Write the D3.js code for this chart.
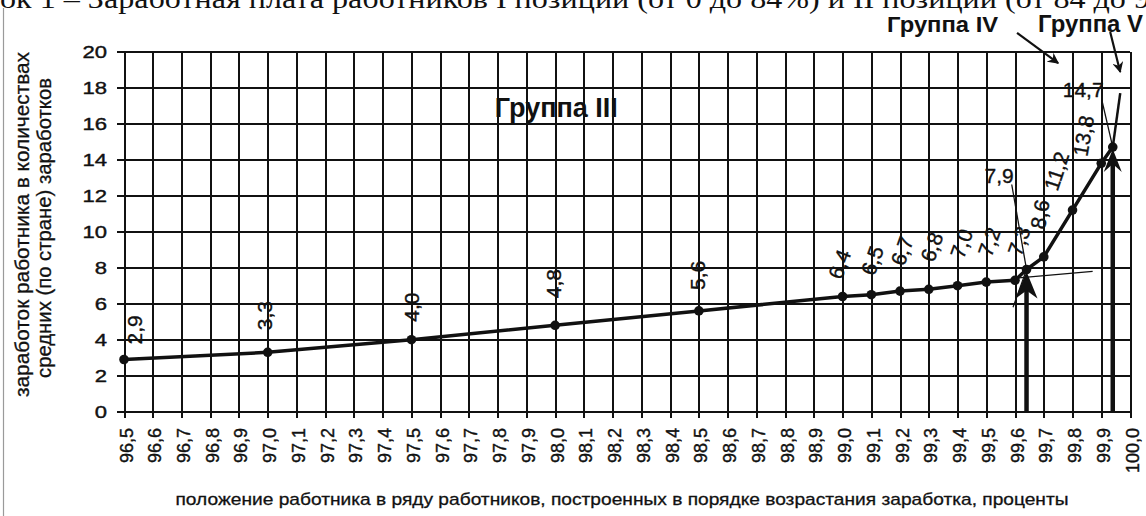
<!DOCTYPE html>
<html><head><meta charset="utf-8">
<script src="https://cdn.jsdelivr.net/npm/d3@7"></script>
<style>body{margin:0;background:#fff}svg{display:block}</style>
</head><body><svg id="c" width="1146" height="516"></svg>
<script>
// ---------- data ----------
const xTickValues = [96.5,96.6,96.7,96.8,96.9,97.0,97.1,97.2,97.3,97.4,97.5,97.6,97.7,97.8,97.9,98.0,98.1,98.2,98.3,98.4,98.5,98.6,98.7,98.8,98.9,99.0,99.1,99.2,99.3,99.4,99.5,99.6,99.7,99.8,99.9,100.0];
const xTickLabels = ["96,5","96,6","96,7","96,8","96,9","97,0","97,1","97,2","97,3","97,4","97,5","97,6","97,7","97,8","97,9","98,0","98,1","98,2","98,3","98,4","98,5","98,6","98,7","98,8","98,9","99,0","99,1","99,2","99,3","99,4","99,5","99,6","99,7","99,8","99,9","100,0"];
const yTickValues = [0,2,4,6,8,10,12,14,16,18,20];
const positions = [96.5,97.0,97.5,98.0,98.5,99.0,99.1,99.2,99.3,99.4,99.5,99.6,99.64,99.7,99.8,99.9,99.94];
const values    = [2.9,3.3,4.0,4.8,5.6,6.4,6.5,6.7,6.8,7.0,7.2,7.3,7.9,8.6,11.2,13.8,14.7];
const valueLabels = ["2,9","3,3","4,0","4,8","5,6","6,4","6,5","6,7","6,8","7,0","7,2","7,3","7,9","8,6","11,2","13,8","14,7"];
const trendX = [99.59, 99.87];
const trendY = [7.4, 7.8];
const groupNames = ["Группа III","Группа IV","Группа V"];
const groupLabelX = [97.79, 99.155, 99.68];
const groupLabelY = [16.37, 21.1, 21.1];
const groupArrowX = [[99.607, 99.75],[99.931, 99.966]];
const groupArrowY = [[21.04, 19.37],[21.09, 18.87]];
const markerPositions = [99.64, 99.94];
const markerValues = [7.9, 14.7];
const extensionX = [99.94, 99.966];
const extensionY = [14.7, 17.7];
const crossX = [99.593, 99.64];
const crossY = [5.8, 7.9];
const titleText = "ок 1 – Заработная плата работников I позиции (от 0 до 84%) и II позиции (от 84 до 9";
const yTitleLines = ["заработок работника в количествах","средних (по стране) заработков"];
const xTitle = "положение работника в ряду работников, построенных в порядке возрастания заработка, проценты";

// ---------- layout (styles only) ----------
const labelLayout = [
  {a:-90,dx:18,dy:-15},{a:-90,dx:4,dy:-22},{a:-90,dx:8,dy:-18},{a:-90,dx:6,dy:-27},{a:-90,dx:6,dy:-21},
  {a:-70,dx:-1,dy:-16},{a:-70,dx:3,dy:-18},{a:-70,dx:4,dy:-24},{a:-70,dx:5,dy:-26},{a:-70,dx:6,dy:-26},{a:-70,dx:5,dy:-24},{a:-70,dx:6,dy:-23},
  {a:0,dx:-42,dy:-87,leader:true},{a:-80,dx:1,dy:-27},{a:-72,dx:-15,dy:-18},{a:-80,dx:-14,dy:-6},{a:0,dx:-50,dy:-50,leader:true}
];
const ink = "#111";
const sans = "'Liberation Sans', Arial, sans-serif";

const svg = d3.select("#c");
svg.append("rect").attr("width",1146).attr("height",516).attr("fill","#fff");

const x = d3.scaleLinear().domain([96.5,100]).range([124,1130]);
const y = d3.scaleLinear().domain([0,20]).range([411.7,51.7]);

function heavy(sel, w){ return sel.attr("stroke","#111").attr("stroke-width",w).attr("paint-order","stroke"); }

// title (cut off at top, as in the source scan)
svg.append("text").attr("x",0).attr("y",8).attr("font-family","'Liberation Serif', 'Times New Roman', serif")
  .attr("font-size",27).attr("fill","#111").attr("textLength",1150).attr("lengthAdjust","spacingAndGlyphs").text(titleText);
// left frame edge
svg.append("line").attr("x1",3.5).attr("x2",3.5).attr("y1",8).attr("y2",516).attr("stroke","#9a9a9a").attr("stroke-width",1.2);

// y axis with gridlines
const yAxis = svg.append("g").attr("transform","translate(117,0)")
  .call(d3.axisLeft(y).tickValues(yTickValues).tickSize(-(1130-117)).tickPadding(10).tickFormat(d=>String(d)));
yAxis.select(".domain").remove();
yAxis.selectAll(".tick line").attr("stroke",ink).attr("stroke-width",2).attr("shape-rendering","crispEdges");
heavy(yAxis.selectAll(".tick text").attr("font-family",sans).attr("font-size",17).attr("fill","#111")
  .attr("x",-10/1.3).attr("transform","scale(1.3,1)"), 0.4);

// x axis with gridlines
const xAxis = svg.append("g").attr("transform","translate(0,417.7)")
  .call(d3.axisBottom(x).tickValues(xTickValues).tickSize(-(417.7-51.7)).tickFormat((d,i)=>xTickLabels[i]));
xAxis.select(".domain").remove();
xAxis.selectAll(".tick line").attr("stroke",ink).attr("stroke-width",2).attr("shape-rendering","crispEdges");
heavy(xAxis.selectAll(".tick text").attr("font-family",sans).attr("font-size",18).attr("fill","#111")
  .attr("transform","rotate(-90)").attr("x",-10.3).attr("y",8).attr("dy",0).attr("text-anchor","end"), 0.4);

// axis titles
yTitleLines.forEach((t,i)=>{
  const bx = [29,51][i], cy=[224.5,228][i], len=[345,300][i];
  heavy(svg.append("text").attr("transform",`translate(${bx},${cy}) rotate(-90)`).attr("text-anchor","middle")
    .attr("font-family",sans).attr("font-size",20).attr("fill","#111")
    .attr("textLength",len).attr("lengthAdjust","spacingAndGlyphs").text(t), 0.3);
});
heavy(svg.append("text").attr("x",622).attr("y",505).attr("text-anchor","middle").attr("font-family",sans)
  .attr("font-size",17).attr("fill","#111").attr("textLength",893).attr("lengthAdjust","spacingAndGlyphs").text(xTitle), 0.3);

// trend (thin) and crossing stroke
svg.append("path").datum(d3.zip(trendX,trendY)).attr("fill","none").attr("stroke",ink).attr("stroke-width",1.2)
  .attr("d",d3.line().x(d=>x(d[0])).y(d=>y(d[1])));
svg.append("path").datum(d3.zip(crossX,crossY)).attr("fill","none").attr("stroke",ink).attr("stroke-width",1.2)
  .attr("d",d3.line().x(d=>x(d[0])).y(d=>y(d[1])));

// marker arrows (thick vertical)
markerPositions.forEach((p,i)=>{
  const tipY = y(markerValues[i]) + 2, cx = x(p);
  svg.append("line").attr("x1",cx).attr("x2",cx).attr("y1",y(0)).attr("y2",tipY+12)
    .attr("stroke",ink).attr("stroke-width",4.5);
  const hw = i===0 ? 11 : 9, hl = i===0 ? 27 : 23;
  svg.append("path").attr("d",`M${cx},${tipY} L${cx-hw},${tipY+hl} L${cx},${tipY+hl-8} L${cx+hw},${tipY+hl} Z`).attr("fill",ink);
});
// extension above last point
svg.append("path").datum(d3.zip(extensionX,extensionY)).attr("fill","none").attr("stroke",ink).attr("stroke-width",2.5)
  .attr("d",d3.line().x(d=>x(d[0])).y(d=>y(d[1])));

// main data line
const pts = d3.zip(positions, values);
svg.append("path").datum(pts).attr("fill","none").attr("stroke",ink).attr("stroke-width",3.5)
  .attr("stroke-linejoin","round").attr("d",d3.line().x(d=>x(d[0])).y(d=>y(d[1])));
svg.selectAll("circle.pt").data(pts).join("circle").attr("class","pt")
  .attr("cx",d=>x(d[0])).attr("cy",d=>y(d[1])).attr("r",4.8).attr("fill",ink);

// data labels
pts.forEach((d,i)=>{
  const L = labelLayout[i], px = x(d[0]), py = y(d[1]);
  const sx = px + L.dx, sy = py + L.dy;
  const t = svg.append("text").attr("transform",`translate(${sx},${sy}) rotate(${L.a})`)
    .attr("font-family",sans).attr("font-size",21).attr("fill","#111").text(valueLabels[i]);
  heavy(t, 0.35);
  if (L.leader){
    const w = t.node().getComputedTextLength();
    svg.append("line").attr("x1",sx+w-2).attr("y1",sy+2).attr("x2",px).attr("y2",py)
      .attr("stroke",ink).attr("stroke-width",1.3);
  }
});

// group labels & arrows
svg.append("defs").append("marker").attr("id","ah").attr("viewBox","0 0 10 10").attr("refX",9).attr("refY",5)
  .attr("markerWidth",5).attr("markerHeight",5).attr("orient","auto")
  .append("path").attr("d","M0,0 L10,5 L0,10 L3,5 Z").attr("fill",ink);
groupNames.forEach((g,i)=>{
  const t = svg.append("text").attr("x",x(groupLabelX[i])).attr("y",y(groupLabelY[i]))
    .attr("font-family",sans).attr("font-weight","bold").attr("font-size",[27,22,23][i]).attr("fill","#111").text(g);
  if (i===1) t.attr("textLength",111).attr("lengthAdjust","spacingAndGlyphs");
  if (i===2) t.attr("textLength",105).attr("lengthAdjust","spacingAndGlyphs");
});
groupArrowX.forEach((ax,i)=>{
  svg.append("line").attr("x1",x(ax[0])).attr("y1",y(groupArrowY[i][0])).attr("x2",x(ax[1])).attr("y2",y(groupArrowY[i][1]))
    .attr("stroke",ink).attr("stroke-width",2.2).attr("marker-end","url(#ah)");
});
</script>
</body></html>
